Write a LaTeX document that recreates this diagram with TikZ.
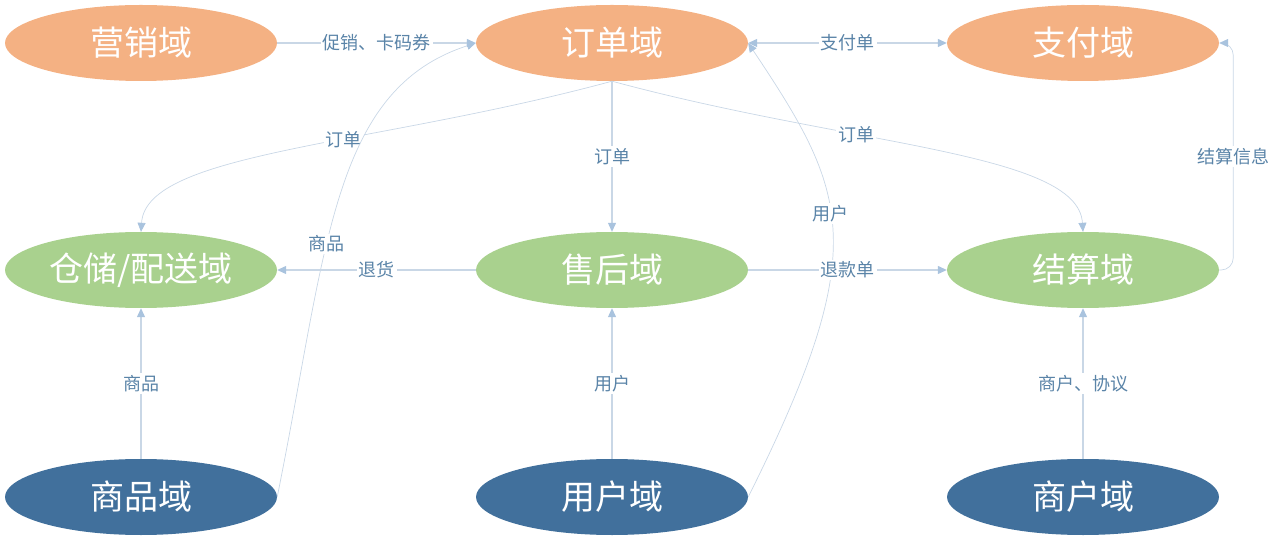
\documentclass[tikz,border=0pt]{standalone}
\usepackage{fontspec}
\newfontfamily\cjk{Noto Sans CJK SC}
\usetikzlibrary{positioning,arrows.meta,shapes.geometric}
\definecolor{topfill}{HTML}{F4B183}
\definecolor{midfill}{HTML}{A9D18E}
\definecolor{basefill}{HTML}{41709C}
\definecolor{linkline}{HTML}{C9D7E6}
\definecolor{linktip}{HTML}{A9C3DE}
\definecolor{tagtext}{HTML}{5A84A8}
\tikzset{
    >={Triangle[length=9pt, width=8pt, color=linktip]},
    domainbox/.style = {ellipse, minimum width = 272pt, minimum height = 76pt,
                        text = white, font = \cjk\fontsize{34}{38}\selectfont},
    link/.style = {draw = linkline, line width = 1.2pt, ->},
    curve/.style = {link, line width = 0.7pt},
    tag/.style = {fill = white, inner sep = 2pt, text = tagtext,
                  font = \cjk\fontsize{18}{20}\selectfont},
}

\begin{document}
\begin{tikzpicture}[x = 1pt, y = 1pt, node distance = 227pt and 471pt, on grid]
    \useasboundingbox (0,0) rectangle (1281,549);

    % top row
    \node (order) [domainbox, fill = topfill] at (612,506) {订单域};
    \node (market) [domainbox, fill = topfill, left = of order] {营销域};
    \node (pay) [domainbox, fill = topfill, right = of order] {支付域};

    % middle row
    \node (after) [domainbox, fill = midfill, below = of order] {售后域};
    \node (store) [domainbox, fill = midfill, left = of after] {仓储/配送域};
    \node (settle) [domainbox, fill = midfill, right = of after] {结算域};

    % bottom row
    \node (user) [domainbox, fill = basefill, below = of after] {用户域};
    \node (goods) [domainbox, fill = basefill, left = of user] {商品域};
    \node (merchant) [domainbox, fill = basefill, right = of user] {商户域};

    % curved links
    \draw [curve] (order.south) .. controls +(-240,-65) and +(5,80) ..
        node [tag, pos = 0.4] {订单} (store.north);
    \draw [curve] (order.south) .. controls +(240,-65) and +(-5,80) ..
        node [tag, pos = 0.36] {订单} (settle.north);
    \draw [curve] (goods.east) .. controls +(50,247) and +(-145,-47) ..
        node [tag, pos = 0.4] {商品} (order.west);
    \draw [curve] (user.east) .. controls +(125,250) and +(100,-150) ..
        node [tag, pos = 0.55] {用户} (order.east);
    \draw [curve, rounded corners = 12pt] (settle.east) -- ++(14,0)
        |- node [tag, pos = 0.25] {结算信息} (pay.east);

    % straight links
    \draw [link] (market) -- node [tag] {促销、卡码券} (order);
    \draw [link, <->] (order) -- node [tag] {支付单} (pay);
    \draw [link] (order) -- node [tag] {订单} (after);
    \draw [link] (after) -- node [tag] {退货} (store);
    \draw [link] (after) -- node [tag] {退款单} (settle);
    \draw [link] (goods) -- node [tag] {商品} (store);
    \draw [link] (user) -- node [tag] {用户} (after);
    \draw [link] (merchant) -- node [tag] {商户、协议} (settle);
\end{tikzpicture}
\end{document}
